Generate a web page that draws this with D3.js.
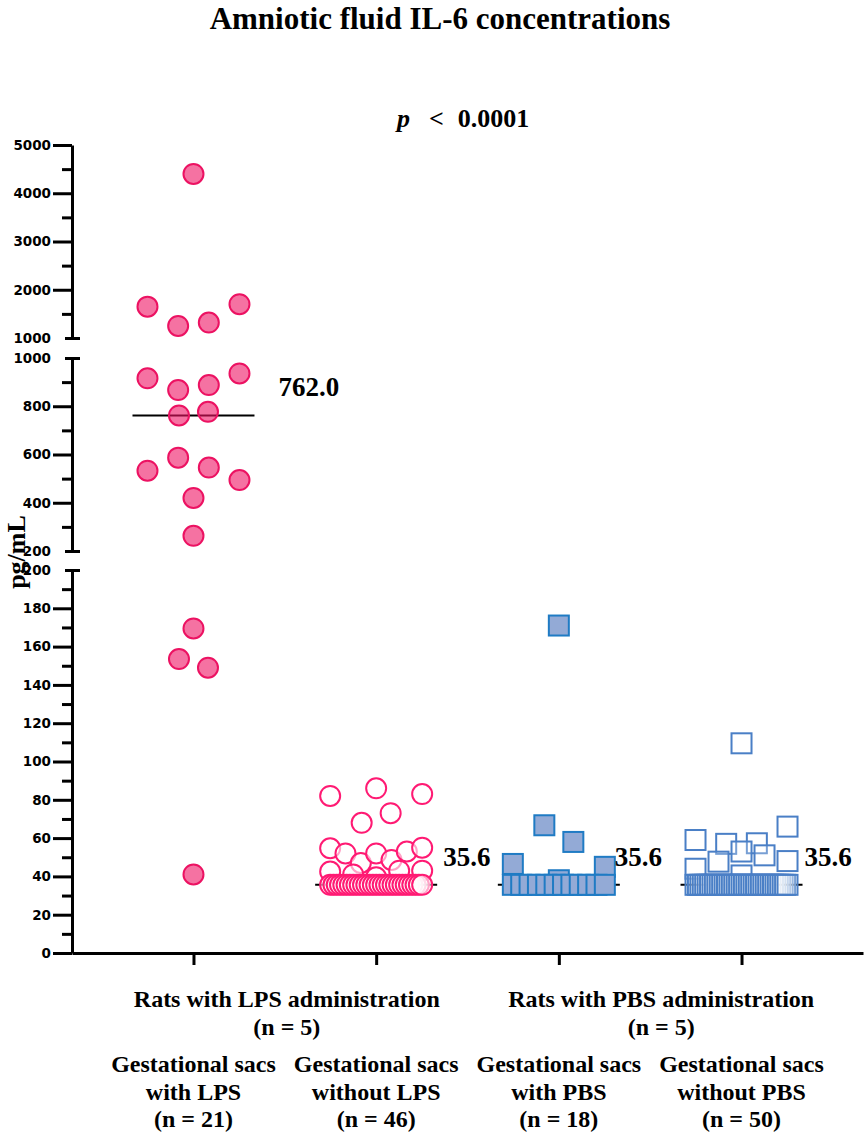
<!DOCTYPE html>
<html>
<head>
<meta charset="utf-8">
<script src="https://cdn.jsdelivr.net/npm/d3@7"></script>
<style>
  body { margin: 0; background: #fff; }
  svg { display: block; }
</style>
</head>
<body>
<div id="chart"></div>
<script>
// Amniotic fluid IL-6, scatter dot plot with a broken y axis (3 segments)

var groupKeys = ['lpsWith', 'lpsWithout', 'pbsWith', 'pbsWithout'];
var groupLabels = [
  ['Gestational sacs', 'with LPS', '(n = 21)'],
  ['Gestational sacs', 'without LPS', '(n = 46)'],
  ['Gestational sacs', 'with PBS', '(n = 18)'],
  ['Gestational sacs', 'without PBS', '(n = 50)']
];
var ratLabels = [
  ['Rats with LPS administration', '(n = 5)'],
  ['Rats with PBS administration', '(n = 5)']
];

var lpsWith = [4400, 1650, 1250, 1320, 1700, 916, 867, 888, 936, 762, 777,
  533, 587, 546, 494, 420, 263, 169.5, 153.5, 149, 41];
var lpsWithout = [82, 86, 83, 68, 73, 54.7, 52, 47, 52, 48.6, 53, 55,
  42.5, 41, 39.5, 43, 43,
  35.6, 35.6, 35.6, 35.6, 35.6, 35.6, 35.6, 35.6, 35.6, 35.6,
  35.6, 35.6, 35.6, 35.6, 35.6, 35.6, 35.6, 35.6, 35.6, 35.6,
  35.6, 35.6, 35.6, 35.6, 35.6, 35.6, 35.6, 35.6, 35.6];
var pbsWith = [171, 66.7, 58, 46.5, 38, 45,
  35.6, 35.6, 35.6, 35.6, 35.6, 35.6, 35.6, 35.6, 35.6, 35.6, 35.6, 35.6];
var pbsWithout = [109.5, 59, 57, 57.3, 66, 44, 47.7, 53, 51, 48, 40.5,
  35.6, 35.6, 35.6, 35.6, 35.6, 35.6, 35.6, 35.6, 35.6, 35.6,
  35.6, 35.6, 35.6, 35.6, 35.6, 35.6, 35.6, 35.6, 35.6, 35.6,
  35.6, 35.6, 35.6, 35.6, 35.6, 35.6, 35.6, 35.6, 35.6, 35.6,
  35.6, 35.6, 35.6, 35.6, 35.6, 35.6, 35.6, 35.6, 35.6];

var segTicks = [
  { major: [0, 20, 40, 60, 80, 100, 120, 140, 160, 180, 200], minor: [10, 30, 50, 70, 90, 110, 130, 150, 170, 190] },
  { major: [200, 400, 600, 800, 1000], minor: [300, 500, 700, 900] },
  { major: [1000, 2000, 3000, 4000, 5000], minor: [1500, 2500, 3500, 4500] }
];

var W = 865, H = 1135;
var AXIS_X = 72;
var X_END = 863;
var SERIF = '"Liberation Serif", "Times New Roman", serif';
var SANS = '"DejaVu Sans", Arial, sans-serif';
var ROW_GAP = 22.5;     // points closer than this (px) share a row
var PAIR_STEP = 29;     // spacing for rows of two
var SPREAD = 92;        // full width for rows of 3+
var MEDIAN_HALF = 61;
var LABEL_DX = [85, 67, 56, 63];

var segments = [
  d3.scaleLinear().domain([0, 200]).range([953, 570]),
  d3.scaleLinear().domain([200, 1000]).range([551, 358]),
  d3.scaleLinear().domain([1000, 5000]).range([338, 145])
];

function yPos(v) {
  if (v <= 200) return segments[0](v);
  if (v <= 1000) return segments[1](v);
  return segments[2](v);
}

var x = d3.scalePoint().domain(groupKeys).range([AXIS_X, X_END]).padding(0.665);

var styles = {
  lpsWith:    { shape: 'circle', stroke: '#ec1262', fill: '#ee1464', fillOpacity: 0.6 },
  lpsWithout: { shape: 'circle', stroke: '#ff1a73', fill: '#ffffff', fillOpacity: 0.6 },
  pbsWith:    { shape: 'square', stroke: '#1f7bc4', fill: '#93aad6', fillOpacity: 1 },
  pbsWithout: { shape: 'square', stroke: '#4a7fc6', fill: '#ffffff', fillOpacity: 0.25 }
};

var dataByGroup = {
  lpsWith: lpsWith, lpsWithout: lpsWithout, pbsWith: pbsWith, pbsWithout: pbsWithout
};

// simple row-based swarm: nearby points share a row, tied values form a band
function swarm(values, cx) {
  var pts = values.map(function(v, i) { return { v: v, i: i, y: yPos(v) }; });
  var counts = d3.rollup(values, function(g) { return g.length; }, function(d) { return d; });
  var band = pts.filter(function(p) { return counts.get(p.v) >= 4; });
  var rest = pts.filter(function(p) { return counts.get(p.v) < 4; })
    .sort(function(a, b) { return a.y - b.y || a.i - b.i; });
  var rows = [];
  rest.forEach(function(p) {
    var last = rows[rows.length - 1];
    if (last && p.y - last[0].y <= ROW_GAP) last.push(p);
    else rows.push([p]);
  });
  d3.groups(band, function(d) { return d.v; }).forEach(function(g) { rows.push(g[1]); });
  rows.forEach(function(row) {
    row.sort(function(a, b) { return a.i - b.i; });
    var n = row.length;
    var step = n <= 2 ? PAIR_STEP : SPREAD / (n - 1);
    row.forEach(function(p, k) { p.x = cx + (k - (n - 1) / 2) * step; });
  });
  return pts;
}

var svg = d3.select('#chart').append('svg')
  .attr('width', W)
  .attr('height', H);

// title and p value
svg.append('text')
  .attr('x', 440).attr('y', 29)
  .attr('text-anchor', 'middle')
  .attr('font-family', SERIF).attr('font-weight', 'bold').attr('font-size', '31px')
  .text('Amniotic fluid IL-6 concentrations');

var pText = svg.append('text')
  .attr('x', 397).attr('y', 127)
  .attr('font-family', SERIF).attr('font-weight', 'bold').attr('font-size', '26px');
pText.append('tspan').attr('font-style', 'italic').text('p');
pText.append('tspan').attr('dx', 19).text('<');
pText.append('tspan').attr('dx', 14).text('0.0001');

// y axis label
svg.append('text')
  .attr('transform', 'translate(25,552) rotate(-90)')
  .attr('text-anchor', 'middle')
  .attr('font-family', SERIF).attr('font-weight', 'bold').attr('font-size', '26px')
  .text('pg/mL');

// y axis segments
segments.forEach(function(seg, si) {
  var g = svg.append('g').attr('transform', 'translate(' + AXIS_X + ',0)');
  g.call(d3.axisLeft(seg)
    .tickValues(segTicks[si].major)
    .tickSize(19)
    .tickSizeOuter(0)
    .tickPadding(2)
    .tickFormat(d3.format('d')));
  g.select('.domain').attr('stroke-width', 3).attr('stroke', '#000');
  g.selectAll('.tick line').attr('stroke-width', 3).attr('stroke', '#000');
  g.selectAll('.tick text')
    .attr('font-family', SANS).attr('font-weight', 'bold').attr('font-size', '13.5px').attr('fill', '#000');
  // break ends get a short centred mark instead of the long tick
  g.selectAll('.tick').filter(function(d) {
    return (si === 0 && d === 200) || (si === 1) && (d === 200 || d === 1000) || (si === 2 && d === 1000);
  }).select('line').attr('x1', -7).attr('x2', 8);

  var gm = svg.append('g').attr('transform', 'translate(' + AXIS_X + ',0)');
  gm.call(d3.axisLeft(seg).tickValues(segTicks[si].minor).tickSize(10).tickSizeOuter(0).tickFormat(''));
  gm.select('.domain').remove();
  gm.selectAll('.tick line').attr('stroke-width', 3).attr('stroke', '#000');
});

// x axis
var gx = svg.append('g').attr('transform', 'translate(0,953)');
gx.call(d3.axisBottom(x).tickSize(12).tickSizeOuter(0).tickFormat(''));
gx.select('.domain').attr('stroke-width', 3).attr('stroke', '#000');
gx.selectAll('.tick line').attr('stroke-width', 3).attr('stroke', '#000');

// medians, points, median labels
groupKeys.forEach(function(key, gi) {
  var values = dataByGroup[key];
  var cx = x(key);
  var med = d3.median(values);
  var st = styles[key];

  svg.append('line')
    .attr('x1', cx - MEDIAN_HALF).attr('x2', cx + MEDIAN_HALF)
    .attr('y1', yPos(med)).attr('y2', yPos(med))
    .attr('stroke', '#000').attr('stroke-width', 2);

  var pts = swarm(values, cx);
  var gp = svg.append('g');
  pts.forEach(function(p) {
    if (st.shape === 'circle') {
      gp.append('circle')
        .attr('cx', p.x).attr('cy', p.y).attr('r', 10)
        .attr('fill', st.fill).attr('fill-opacity', st.fillOpacity)
        .attr('stroke', st.stroke).attr('stroke-width', 2);
    } else {
      gp.append('rect')
        .attr('x', p.x - 10).attr('y', p.y - 10)
        .attr('width', 20).attr('height', 20)
        .attr('fill', st.fill).attr('fill-opacity', st.fillOpacity)
        .attr('stroke', st.stroke).attr('stroke-width', 2);
    }
  });

  svg.append('text')
    .attr('x', cx + LABEL_DX[gi]).attr('y', yPos(med) - 19)
    .attr('font-family', SERIF).attr('font-weight', 'bold').attr('font-size', '27px')
    .text(d3.format('.1f')(med));

  var lab = svg.append('text')
    .attr('text-anchor', 'middle')
    .attr('font-family', SERIF).attr('font-weight', 'bold').attr('font-size', '24px');
  groupLabels[gi].forEach(function(line, li) {
    lab.append('tspan').attr('x', cx).attr('y', 1072 + li * 27.5).text(line);
  });
});

// rat-level labels spanning two groups each
ratLabels.forEach(function(lines, ri) {
  var mid = (x(groupKeys[ri * 2]) + x(groupKeys[ri * 2 + 1])) / 2 + (ri === 0 ? 2 : 11);
  var t = svg.append('text')
    .attr('text-anchor', 'middle')
    .attr('font-family', SERIF).attr('font-weight', 'bold').attr('font-size', '24px');
  lines.forEach(function(line, li) {
    t.append('tspan').attr('x', mid).attr('y', 1007 + li * 28).text(line);
  });
});
</script>
</body>
</html>
